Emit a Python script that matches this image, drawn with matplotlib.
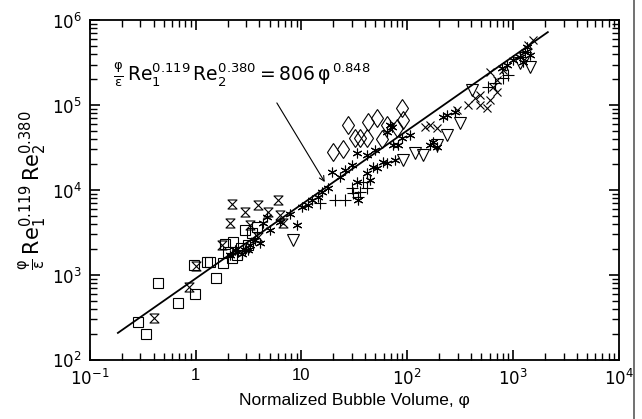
import numpy as np
import matplotlib
matplotlib.use('Agg')
import matplotlib.pyplot as plt
from matplotlib.path import Path
from matplotlib.lines import Line2D
from matplotlib.ticker import FixedLocator, NullFormatter

plt.rcParams['font.family'] = ['Liberation Sans', 'DejaVu Sans']
plt.rcParams['mathtext.fontset'] = 'dejavusans'

### Data (phi, group value)
sq_phi = [0.284, 0.338, 0.44, 0.68, 0.98, 0.96, 1.28, 1.55, 1.81, 2.2, 2.25, 2.01, 1.36,
          2.45, 2.92, 3.4, 3.79, 2.67, 3.11, 1.89]
sq_val = [280, 202, 805, 469, 597, 1310, 1420, 922, 1380, 1585, 2445, 1860, 1420,
          1720, 3380, 3120, 3670, 2080, 2250, 2320]

hg_phi = [0.40, 0.86, 1.0, 2.2, 2.92, 3.87, 2.1, 1.77, 3.25, 3.87, 5.98, 6.67, 4.81, 6.25]
hg_val = [312, 722, 1280, 6840, 5510, 6660, 4090, 2250, 3870, 2800, 7620, 4090, 5510, 5080]

tri_phi = [8.3, 90.8, 118, 140, 190, 237, 314, 408, 1160, 1440, 1290]
tri_val = [2580, 22500, 27200, 25800, 33800, 44400, 61400, 150000, 312000, 280000, 357000]

dia_phi = [27.5, 19.8, 24.6, 32, 35.6, 41.5, 42.4, 51.6, 57.5, 64.1, 88.9, 90.8, 79.8]
dia_val = [58200, 28000, 30300, 40900, 40900, 40900, 63100, 70300, 39800, 58200, 92200,
           66700, 53600]

ast_phi = [9.06, 10.1, 12.5, 15.6, 19.4, 23.1, 33.4, 34.1, 41.5, 44.3, 64.1, 47.3, 73.1,
           71.5, 33.4, 68.5, 64.1, 58.8, 51.6, 81.5, 164, 175, 190, 237, 217,
           1160, 1290, 995, 1350, 873, 783, 1440, 1240,
           2.1, 2.5, 2.92, 3.25, 3.63, 4.04, 4.71, 4.32, 2.73, 3.11, 2.35,
           5.03, 6.25, 7.77, 11.5, 14.3, 17.8, 25.7, 29.9, 49.4, 89, 106, 282, 41.5, 76.4]
ast_val = [3870, 6310, 7620, 9470, 16300, 14200, 27200, 7620, 15800, 13100, 20800, 18600,
           33800, 55100, 12400, 58200, 48100, 21300, 18100, 33800, 33800, 36700, 32100,
           76300, 72300,
           367000, 421000, 338000, 481000, 296000, 272000, 387000, 321000,
           1720, 1860, 1970, 2250, 2580, 2380, 4810, 4090, 1770, 1970, 1970,
           3380, 4200, 5220, 6660, 8270, 10600, 17200, 19700, 29500, 40900, 44400, 82800,
           25800, 22500]

plus_phi = [14.9, 20.7, 25.7, 29.9, 35.6, 38, 41.5, 30.6, 34.1, 802, 673, 578, 893]
plus_val = [7030, 7620, 7620, 10600, 9470, 12400, 10600, 9220, 8270, 208000, 182000,
            163000, 225000]

x_phi = [374, 565, 436, 485, 604, 703, 644, 147, 190, 164, 294, 604, 802, 1380, 1540,
         703, 485]
x_val = [100000, 92200, 121000, 131000, 115000, 142000, 163000, 55100, 53600, 58200,
         87300, 245000, 258000, 508000, 582000, 197000, 100000]

### Correlation line (end points as drawn)
fit_phi = [0.184, 2130]
fit_val = [208, 722000]

x_major = [0.1, 1, 10, 100, 1000, 10000]
x_major_labels = [r'$10^{-1}$', '1', '10', r'$10^{2}$', r'$10^{3}$', r'$10^{4}$']
y_major = [1e2, 1e3, 1e4, 1e5, 1e6]
y_major_labels = [r'$10^{2}$', r'$10^{3}$', r'$10^{4}$', r'$10^{5}$', r'$10^{6}$']
x_minor = [k * d for d in x_major[:-1] for k in range(2, 10)]
y_minor = [k * d for d in y_major[:-1] for k in range(2, 10)]

### Hourglass marker
hourglass = Path([(-1, 1), (1, 1), (-1, -1), (1, -1), (-1, 1)],
                 [Path.MOVETO, Path.LINETO, Path.LINETO, Path.LINETO, Path.CLOSEPOLY])

fig = plt.figure(figsize=(6.42, 4.19), dpi=100)
ax = fig.add_axes([0.140, 0.141, 0.824, 0.811])

open_kw = dict(linestyle='none', mfc='none', mec='black', mew=0.8)
ax.plot(sq_phi, sq_val, marker='s', ms=7, **open_kw)
ax.plot(hg_phi, hg_val, marker=hourglass, ms=6.5, **open_kw)
ax.plot(tri_phi, tri_val, marker='v', ms=8.5, **open_kw)
ax.plot(dia_phi, dia_val, marker='d', ms=9.5, **open_kw)
ax.plot(ast_phi, ast_val, marker=(6, 2, 0), ms=7, **open_kw)
ax.plot(plus_phi, plus_val, marker='+', ms=8, **open_kw)
ax.plot(x_phi, x_val, marker='x', ms=6, **open_kw)

ax.plot(fit_phi, fit_val, color='black', lw=1.3)

ax.set_xscale('log')
ax.set_yscale('log')
ax.set_xlim(0.1, 1e4)
ax.set_ylim(1e2, 1e6)

ax.set_xticks(x_major)
ax.set_xticklabels(x_major_labels)
ax.set_yticks(y_major)
ax.set_yticklabels(y_major_labels)
ax.xaxis.set_minor_locator(FixedLocator(x_minor))
ax.yaxis.set_minor_locator(FixedLocator(y_minor))
ax.xaxis.set_minor_formatter(NullFormatter())
ax.yaxis.set_minor_formatter(NullFormatter())
ax.tick_params(which='both', direction='in', top=True, right=True, color='black',
               labelsize=12)
ax.tick_params(which='major', length=7, width=1.2, pad=6)
ax.tick_params(which='minor', length=5, width=1.0)

for s in ax.spines.values():
    s.set_linewidth(1.3)

ax.set_xlabel('Normalized Bubble Volume, \u03c6', fontsize=12.5, labelpad=3)
ax.set_ylabel(r'$\frac{\mathrm{\varphi}}{\mathrm{\varepsilon}}\,\mathrm{Re}_1^{0.119}\,\mathrm{Re}_2^{0.380}$',
              fontsize=15, labelpad=2)

ax.text(0.165, 225000,
        r'$\frac{\mathrm{\varphi}}{\mathrm{\varepsilon}}\,\mathrm{Re}_1^{0.119}\,\mathrm{Re}_2^{0.380}'
        r' = 806\,\mathrm{\varphi}^{\,0.848}$',
        fontsize=13.5, va='center', ha='left')
ax.annotate('', xy=(16.6, 12400), xytext=(5.85, 106000),
            arrowprops=dict(arrowstyle='->', color='black', lw=0.8,
                            shrinkA=0, shrinkB=0, mutation_scale=9))

### Scan edge on the right side
fig.add_artist(Line2D([0.987, 0.987], [0, 1], color='0.35', lw=1.2))

fig.savefig('out.png', dpi=100)
